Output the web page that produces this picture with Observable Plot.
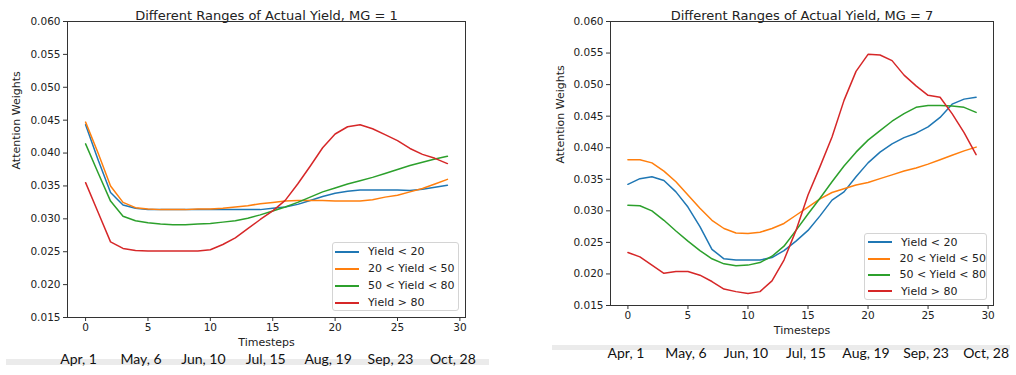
<!DOCTYPE html>
<html><head><meta charset="utf-8">
<script src="https://cdn.jsdelivr.net/npm/d3@7"></script>
<script src="https://cdn.jsdelivr.net/npm/@observablehq/plot@0.6"></script>
<style>
body{margin:0;background:#fff}
#wrap{position:relative;width:1016px;height:375px;overflow:hidden;background:#fff}
.band{position:absolute;background:#ebebeb}
.chart{position:absolute;top:0}
.legend{position:absolute;border:1px solid #d4d4d4;border-radius:3px;background:rgba(255,255,255,0.85);font:11px "DejaVu Sans";color:#222;box-sizing:border-box}
.row{display:flex;align-items:center;white-space:nowrap}
.sw{display:inline-block;width:24px;height:2px;margin-right:9px}
</style></head>
<body>
<div id="wrap">
  <div class="band" style="left:6px;top:359px;width:483px;height:6px"></div>
  <div class="band" style="left:552px;top:345px;width:458px;height:5px"></div>
  <div id="c1" class="chart" style="left:0"></div>
  <div id="c2" class="chart" style="left:500px"></div>
</div>
<script>
const timesteps = [0,1,2,3,4,5,6,7,8,9,10,11,12,13,14,15,16,17,18,19,20,21,22,23,24,25,26,27,28,29];
const seriesNames = ["Yield < 20", "20 < Yield < 50", "50 < Yield < 80", "Yield > 80"];
const seriesColors = ["#1f77b4", "#ff7f0e", "#2ca02c", "#d62728"];
const xTicks = [0,5,10,15,20,25,30];
const yTicks = [0.015,0.020,0.025,0.030,0.035,0.040,0.045,0.050,0.055,0.060];
const dateLabels = ["Apr, 1","May, 6","Jun, 10","Jul, 15","Aug, 19","Sep, 23","Oct, 28"];
const dateSteps = [0,5,10,15,20,25,30];

// MG = 1
const mg1_lt20 = [0.0443,0.0390,0.0340,0.0321,0.0316,0.0314,0.0314,0.0314,0.0314,0.0314,0.0314,0.0314,0.0314,0.0314,0.0314,0.0316,0.0318,0.0322,0.0328,0.0334,0.0339,0.0342,0.0344,0.0344,0.0344,0.0344,0.0343,0.0345,0.0348,0.0351];
const mg1_20_50 = [0.0447,0.0400,0.0350,0.0325,0.0317,0.0315,0.0314,0.0314,0.0314,0.0315,0.0315,0.0316,0.0318,0.0320,0.0323,0.0325,0.0327,0.0328,0.0328,0.0328,0.0327,0.0327,0.0327,0.0329,0.0333,0.0336,0.0341,0.0346,0.0353,0.0360];
const mg1_50_80 = [0.0414,0.0370,0.0327,0.0304,0.0297,0.0294,0.0292,0.0291,0.0291,0.0292,0.0293,0.0295,0.0297,0.0301,0.0306,0.0312,0.0318,0.0325,0.0333,0.0341,0.0347,0.0353,0.0358,0.0363,0.0369,0.0375,0.0381,0.0386,0.0391,0.0395];
const mg1_gt80 = [0.0355,0.0310,0.0265,0.0255,0.0252,0.0251,0.0251,0.0251,0.0251,0.0251,0.0253,0.0261,0.0271,0.0285,0.0299,0.0312,0.0328,0.0353,0.0380,0.0408,0.0429,0.0440,0.0443,0.0437,0.0428,0.0419,0.0407,0.0398,0.0392,0.0384];

// MG = 7
const mg7_lt20 = [0.0342,0.0351,0.0354,0.0348,0.0330,0.0306,0.0275,0.0239,0.0224,0.0222,0.0222,0.0222,0.0226,0.0237,0.0252,0.0269,0.0292,0.0317,0.0330,0.0354,0.0376,0.0393,0.0406,0.0416,0.0423,0.0433,0.0448,0.0469,0.0477,0.0480];
const mg7_20_50 = [0.0381,0.0381,0.0376,0.0363,0.0346,0.0325,0.0304,0.0285,0.0272,0.0265,0.0264,0.0266,0.0272,0.0280,0.0293,0.0306,0.0319,0.0329,0.0335,0.0341,0.0345,0.0351,0.0357,0.0363,0.0368,0.0374,0.0381,0.0388,0.0395,0.0401];
const mg7_50_80 = [0.0309,0.0308,0.0300,0.0285,0.0268,0.0252,0.0237,0.0224,0.0216,0.0213,0.0214,0.0218,0.0228,0.0244,0.0269,0.0295,0.0320,0.0346,0.0371,0.0393,0.0412,0.0427,0.0442,0.0454,0.0464,0.0467,0.0467,0.0466,0.0464,0.0456];
const mg7_gt80 = [0.0234,0.0227,0.0214,0.0201,0.0204,0.0204,0.0198,0.0188,0.0176,0.0172,0.0169,0.0172,0.0189,0.0222,0.0269,0.0325,0.0370,0.0417,0.0475,0.0521,0.0548,0.0547,0.0538,0.0515,0.0498,0.0483,0.0480,0.0454,0.0424,0.0389];

function table(arrs){
  const rows = [];
  arrs.forEach((arr, i) => arr.forEach((v, j) => rows.push({t: timesteps[j], v, series: seriesNames[i]})));
  return rows;
}

function chart(rows, title, o){
  const dates = dateLabels.map((d, i) => ({label: d, x: dateSteps[i]}));
  return Plot.plot({
    width: o.width, height: 375,
    marginLeft: o.ml, marginRight: o.mr, marginTop: 21, marginBottom: o.mb,
    style: {fontFamily: "DejaVu Sans", fontSize: "10.5px", color: "#222", background: "transparent"},
    x: {domain: [-1.45, 30.45]},
    y: {domain: [0.015, 0.060]},
    color: {domain: seriesNames, range: seriesColors},
    marks: [
      Plot.axisX({ticks: xTicks, tickSize: 4, tickPadding: 2, label: null, stroke: "#333", fill: "#222"}),
      Plot.axisY({ticks: yTicks, tickSize: 4, tickPadding: 3, tickFormat: ".3f", label: null, stroke: "#333", fill: "#222"}),
      Plot.line(rows, {x: "t", y: "v", z: "series", stroke: "series", strokeWidth: 1.5}),
      Plot.frame({stroke: "#333", strokeWidth: 1}),
      Plot.text([title], {frameAnchor: "top", dy: -11, fontSize: 13, fill: "#222"}),
      Plot.text(["Timesteps"], {frameAnchor: "bottom", dy: o.tdy, fontSize: 11, fill: "#222"}),
      Plot.text(["Attention Weights"], {frameAnchor: "left", dx: o.ydx, rotate: -90, fontSize: 11, fill: "#222"}),
      Plot.text(dates, {x: "x", text: "label", frameAnchor: "bottom", dy: o.ddy, dx: o.ddx, fontSize: 14, fontFamily: "Lato", fill: "#111"})
    ]
  });
}

function legend(left, top, w, h, rowH, padL){
  const div = document.createElement("div");
  div.className = "legend";
  Object.assign(div.style, {left: left + "px", top: top + "px", width: w + "px", height: h + "px", paddingLeft: padL + "px", paddingTop: "0px"});
  seriesNames.forEach((n, i) => {
    const r = document.createElement("div");
    r.className = "row"; r.style.height = rowH + "px";
    const s = document.createElement("span"); s.className = "sw"; s.style.background = seriesColors[i];
    r.appendChild(s); r.appendChild(document.createTextNode(n));
    div.appendChild(r);
  });
  document.getElementById("wrap").appendChild(div);
}

document.getElementById("c1").appendChild(chart(table([mg1_lt20, mg1_20_50, mg1_50_80, mg1_gt80]),
  "Different Ranges of Actual Yield, MG = 1", {width: 500, ml: 67, mr: 35, mb: 58, tdy: 28, ydx: -51, ddy: 46, ddx: -7}));
document.getElementById("c2").appendChild(chart(table([mg7_lt20, mg7_20_50, mg7_50_80, mg7_gt80]),
  "Different Ranges of Actual Yield, MG = 7", {width: 516, ml: 110, mr: 23, mb: 70, tdy: 28, ydx: -50, ddy: 52, ddx: -2}));
legend(332, 242, 127, 69, 17, 2);
legend(864, 233, 123, 67, 16.4, 3);
</script>
</body></html>
